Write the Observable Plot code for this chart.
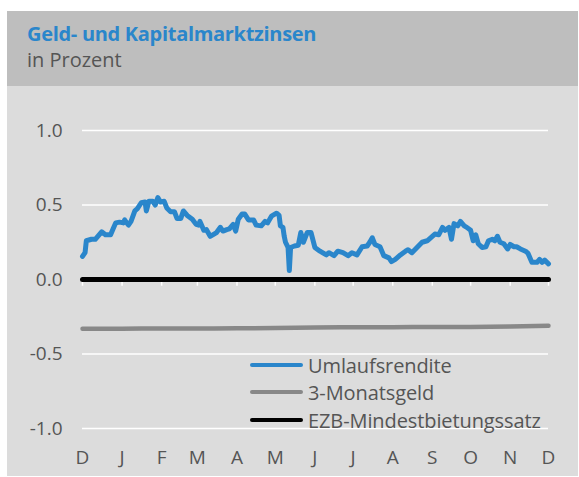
<!DOCTYPE html>
<html>
<head>
<meta charset="utf-8">
<script src="https://cdn.jsdelivr.net/npm/d3@7"></script>
<script src="https://cdn.jsdelivr.net/npm/@observablehq/plot@0.6"></script>
<style>
  html, body { margin: 0; padding: 0; background: #ffffff; width: 579px; height: 477px; overflow: hidden; }
  #panel { position: absolute; left: 7px; top: 11px; width: 571px; height: 465px; background: #dcdcdc; font-family: "Open Sans", sans-serif; }
  #head { position: absolute; left: 0; top: 0; width: 571px; height: 75px; background: #bebebe; }
  #title { position: absolute; left: 20px; top: 9px; font-size: 20px; font-weight: 700; color: #2a86cb; letter-spacing: -0.3px; white-space: nowrap; }
  #sub { position: absolute; left: 20px; top: 35px; font-size: 20px; color: #555555; white-space: nowrap; }
  #chart { position: absolute; left: 0; top: 75px; }
  #legend { position: absolute; left: 243px; top: 0; }
  .row { position: absolute; left: 0; height: 28px; display: flex; align-items: center; white-space: nowrap; }
  .swatch { width: 53px; height: 4.5px; border-radius: 3px; }
  .lab { margin-left: 5px; font-size: 20px; color: #555555; letter-spacing: -0.1px; }
</style>
</head>
<body>
<div id="panel">
  <div id="head">
    <div id="title">Geld- und Kapitalmarktzinsen</div>
    <div id="sub">in Prozent</div>
  </div>
  <div id="chart"></div>
  <div id="legend"></div>
</div>
<script>
// Umlaufsrendite
const umlaufDates = [
  "2017-12-01","2017-12-03","2017-12-04","2017-12-08","2017-12-11","2017-12-13","2017-12-16","2017-12-19","2017-12-23","2017-12-25","2017-12-27","2017-12-30",
  "2018-01-02","2018-01-03","2018-01-06","2018-01-08","2018-01-11","2018-01-13","2018-01-16","2018-01-19","2018-01-20","2018-01-22","2018-01-25","2018-01-27","2018-01-29","2018-01-31",
  "2018-02-03","2018-02-05","2018-02-08","2018-02-11","2018-02-13","2018-02-16","2018-02-18","2018-02-21","2018-02-25","2018-02-28",
  "2018-03-02","2018-03-03","2018-03-06","2018-03-08","2018-03-11","2018-03-13","2018-03-16","2018-03-19","2018-03-21","2018-03-24","2018-03-26","2018-03-29","2018-03-31",
  "2018-04-02","2018-04-05","2018-04-07","2018-04-10","2018-04-14","2018-04-16","2018-04-20","2018-04-23","2018-04-25","2018-04-28",
  "2018-05-02","2018-05-04","2018-05-05","2018-05-07","2018-05-08","2018-05-09","2018-05-11","2018-05-12","2018-05-13","2018-05-16","2018-05-19","2018-05-21","2018-05-23","2018-05-26","2018-05-29",
  "2018-06-01","2018-06-05","2018-06-10","2018-06-12","2018-06-16","2018-06-19","2018-06-23","2018-06-27","2018-06-30",
  "2018-07-04","2018-07-08","2018-07-12","2018-07-14","2018-07-16","2018-07-18","2018-07-22","2018-07-25","2018-07-29","2018-07-31",
  "2018-08-03","2018-08-07","2018-08-11","2018-08-13","2018-08-16","2018-08-20","2018-08-24","2018-08-28",
  "2018-09-01","2018-09-03","2018-09-06","2018-09-09","2018-09-11","2018-09-14","2018-09-16","2018-09-18","2018-09-21","2018-09-23","2018-09-26","2018-09-28",
  "2018-10-01","2018-10-03","2018-10-05","2018-10-07","2018-10-10","2018-10-13","2018-10-15","2018-10-18","2018-10-20","2018-10-22","2018-10-24","2018-10-27","2018-10-30",
  "2018-11-01","2018-11-04","2018-11-06","2018-11-09","2018-11-13","2018-11-15","2018-11-18","2018-11-22","2018-11-24","2018-11-26","2018-11-28","2018-12-01"
];
const umlaufValues = [
  0.155,0.18,0.26,0.27,0.27,0.29,0.32,0.30,0.30,0.34,0.38,0.385,
  0.38,0.40,0.365,0.39,0.46,0.475,0.515,0.52,0.46,0.525,0.525,0.50,0.55,0.52,
  0.525,0.48,0.455,0.455,0.41,0.41,0.46,0.43,0.405,0.37,
  0.365,0.39,0.33,0.335,0.29,0.30,0.315,0.35,0.325,0.335,0.34,0.37,0.325,
  0.405,0.44,0.44,0.40,0.40,0.365,0.36,0.39,0.38,0.425,
  0.445,0.43,0.36,0.35,0.29,0.25,0.215,0.06,0.215,0.225,0.23,0.315,0.25,0.315,0.315,
  0.215,0.19,0.165,0.18,0.16,0.19,0.18,0.16,0.18,
  0.165,0.22,0.225,0.25,0.28,0.235,0.22,0.16,0.145,0.12,
  0.135,0.165,0.19,0.20,0.18,0.215,0.25,0.26,
  0.29,0.305,0.30,0.35,0.33,0.35,0.27,0.375,0.36,0.39,0.36,0.35,
  0.33,0.26,0.30,0.24,0.215,0.22,0.26,0.27,0.26,0.29,0.25,0.24,0.205,
  0.235,0.22,0.22,0.205,0.19,0.175,0.115,0.115,0.135,0.115,0.13,0.105
];
// 3-Monatsgeld
const geldDates = ["2017-12-01","2018-01-01","2018-02-01","2018-03-01","2018-04-01","2018-05-01","2018-06-01","2018-07-01","2018-08-01","2018-09-01","2018-10-01","2018-11-01","2018-12-01"];
const geldValues = [-0.33,-0.33,-0.329,-0.329,-0.328,-0.326,-0.322,-0.321,-0.320,-0.319,-0.318,-0.315,-0.31];
// EZB-Mindestbietungssatz
const ezbDates = ["2017-12-01","2018-12-01"];
const ezbValues = [0, 0];

const monthTicks = ["2017-12-01","2018-01-01","2018-02-01","2018-03-01","2018-04-01","2018-05-01","2018-06-01","2018-07-01","2018-08-01","2018-09-01","2018-10-01","2018-11-01","2018-12-01"];
const monthLabels = ["D","J","F","M","A","M","J","J","A","S","O","N","D"];
const yTicks = [-1, -0.5, 0, 0.5, 1];

const seriesNames = ["Umlaufsrendite", "3-Monatsgeld", "EZB-Mindestbietungssatz"];
const seriesColors = ["#2a86cb", "#888888", "#000000"];

const parse = s => new Date(s + "T00:00:00Z");
const umlauf = umlaufDates.map((d, i) => ({date: parse(d), value: umlaufValues[i]}));
const geld = geldDates.map((d, i) => ({date: parse(d), value: geldValues[i]}));
const ezb = ezbDates.map((d, i) => ({date: parse(d), value: ezbValues[i]}));
const ticks = monthTicks.map(parse);
const labelOf = new Map(ticks.map((t, i) => [+t, monthLabels[i]]));

const chart = Plot.plot({
  width: 571,
  height: 390,
  marginTop: 44,
  marginBottom: 48,
  marginLeft: 75,
  marginRight: 30,
  style: {background: "transparent", fontFamily: "Open Sans, sans-serif", fontSize: "19px", color: "#555555", overflow: "visible"},
  x: {type: "utc", domain: [ticks[0], ticks[ticks.length - 1]], ticks: ticks, tickFormat: d => labelOf.get(+d), tickSize: 0, tickPadding: 22, label: null},
  y: {domain: [-1, 1], ticks: yTicks, tickFormat: d => d.toFixed(1), tickSize: 0, tickPadding: 20, label: null},
  marks: [
    Plot.ruleY(yTicks.filter(v => v !== 0), {stroke: "#ffffff", strokeWidth: 1.6}),
    Plot.ruleX(ticks, {x: d => d, y1: 0, y2: -0.045, stroke: "#ffffff", strokeWidth: 1.5}),
    Plot.line(geld, {x: "date", y: "value", stroke: seriesColors[1], strokeWidth: 4.5, curve: "monotone-x"}),
    Plot.line(ezb, {x: "date", y: "value", stroke: seriesColors[2], strokeWidth: 5, strokeLinecap: "round"}),
    Plot.line(umlauf, {x: "date", y: "value", stroke: seriesColors[0], strokeWidth: 5, strokeLinejoin: "round", strokeLinecap: "round"})
  ]
});
document.getElementById("chart").appendChild(chart);

const legend = document.getElementById("legend");
const rowCenters = [354, 381, 409];
seriesNames.forEach((name, i) => {
  const row = document.createElement("div");
  row.className = "row";
  row.style.top = (rowCenters[i] - 14) + "px";
  const sw = document.createElement("span");
  sw.className = "swatch";
  sw.style.background = seriesColors[i];
  const lab = document.createElement("span");
  lab.className = "lab";
  lab.textContent = name;
  row.appendChild(sw);
  row.appendChild(lab);
  legend.appendChild(row);
});
</script>
</body>
</html>
